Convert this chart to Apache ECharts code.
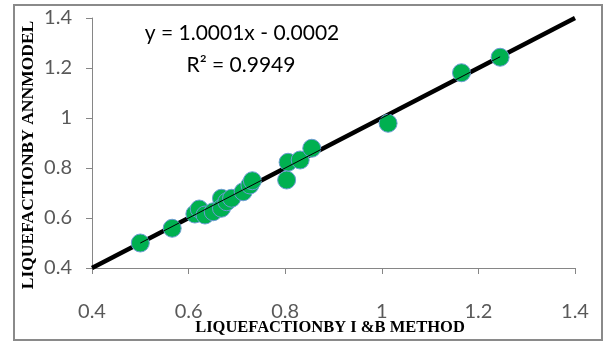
<!DOCTYPE html>
<html>
<head>
<meta charset="utf-8">
<script src="https://cdn.jsdelivr.net/npm/echarts@6/dist/echarts.min.js"></script>
<style>html,body{margin:0;padding:0;background:#fff}#c{width:605px;height:343px}</style>
</head>
<body>
<div id="c"></div>
<script>
// Data
var ibMethod = [0.5, 0.566, 0.613, 0.622, 0.634, 0.651, 0.668, 0.668, 0.679, 0.689, 0.713, 0.727, 0.732, 0.806, 0.803, 0.831, 0.855, 1.013, 1.165, 1.245];
var annModel = [0.5, 0.559, 0.616, 0.636, 0.612, 0.625, 0.679, 0.639, 0.665, 0.679, 0.705, 0.732, 0.749, 0.823, 0.752, 0.832, 0.879, 0.979, 1.181, 1.243];
var slope = 1.0001, intercept = -0.0002;
var trendRange = [0.4, 1.4];
var tickLabels = ['0.4', '0.6', '0.8', '1', '1.2', '1.4'];
var equationText = 'y = 1.0001x - 0.0002';
var r2Text = 'R\u00B2 = 0.9949';
var xTitle = 'LIQUEFACTIONBY I &B METHOD';
var yTitle = 'LIQUEFACTIONBY ANNMODEL';

var points = ibMethod.map(function (x, i) { return [x, annModel[i]]; });
var trend = trendRange.map(function (x) { return [x, slope * x + intercept]; });
var xMin = Math.min.apply(null, ibMethod), xMax = Math.max.apply(null, ibMethod);
var trendThin = [xMin, xMax].map(function (x) { return [x, slope * x + intercept]; });

var chart = echarts.init(document.getElementById('c'), null, {renderer: 'canvas'});
function axis(margin) {
  return {
    type: 'value', min: 0.4, max: 1.4, interval: 0.2,
    axisLine: {show: true, lineStyle: {color: '#868686', width: 1}},
    axisTick: {show: true, inside: false, length: 6, lineStyle: {color: '#868686'}},
    splitLine: {show: false},
    axisLabel: {
      color: '#595959', fontFamily: 'Lato', fontSize: 20, margin: margin,
      formatter: function (v) {
        var s = (Math.round(v * 10) / 10).toString();
        var i = tickLabels.indexOf(s);
        return i >= 0 ? tickLabels[i] : s;
      }
    }
  };
}
chart.setOption({
  animation: false,
  grid: {left: 92, right: 30, top: 18, bottom: 75},
  xAxis: axis(34),
  yAxis: axis(20),
  series: [
    {type: 'line', data: trend, symbol: 'none', z: 1,
     lineStyle: {color: '#000', width: 4.5}, silent: true},
    {type: 'scatter', data: points, symbolSize: 18, z: 2,
     itemStyle: {color: '#00B050', borderColor: '#6C9BD2', borderWidth: 1, opacity: 1}},
    {type: 'line', data: trendThin, symbol: 'none', z: 3,
     lineStyle: {color: '#000', width: 1}, silent: true}
  ],
  graphic: [
    {type: 'rect', shape: {x: 14, y: 5, width: 588, height: 335}, z: -10,
     style: {fill: 'none', stroke: '#8a8a8a', lineWidth: 2}},
    {type: 'text', x: 242, y: 33, style: {text: equationText, fontFamily: 'Lato', fontSize: 21, fill: '#000', align: 'center', verticalAlign: 'middle'}},
    {type: 'text', x: 241, y: 65, style: {text: r2Text, fontFamily: 'Lato', fontSize: 21, fill: '#000', align: 'center', verticalAlign: 'middle'}},
    {type: 'text', x: 330, y: 328, style: {text: xTitle, fontFamily: 'Liberation Serif', fontWeight: 'bold', fontSize: 16.5, fill: '#000', align: 'center', verticalAlign: 'middle'}},
    {type: 'text', x: 28, y: 155, rotation: Math.PI / 2, style: {text: yTitle, fontFamily: 'Liberation Serif', fontWeight: 'bold', fontSize: 17.5, fill: '#000', align: 'center', verticalAlign: 'middle'}}
  ]
});
</script>
</body>
</html>
